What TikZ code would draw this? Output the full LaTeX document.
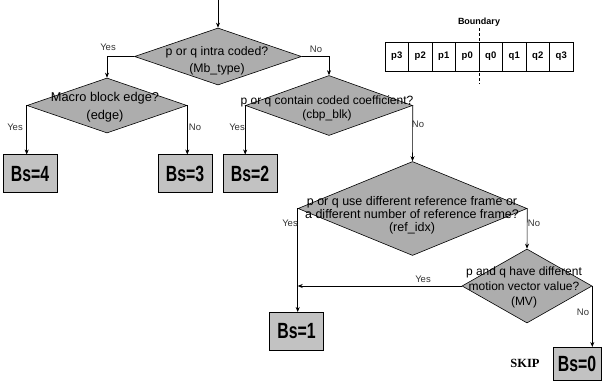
\documentclass[tikz,border=0pt]{standalone}
\usepackage{fontspec}
\usepackage{graphicx}
\setmainfont{Liberation Sans}
\newfontfamily\serifbold{Liberation Serif}
\usetikzlibrary{shapes.geometric,arrows.meta}
\tikzset{
  dia/.style={diamond, draw=black, line width=0.6pt, fill=black!32, inner sep=0pt},
  dtext/.style={align=center, inner sep=0pt, text=black},
  bsbox/.style={draw=black, line width=1pt, fill=black!24, inner sep=0pt,
    minimum width=54pt, minimum height=38pt, font=\fontsize{22}{22}\selectfont\bfseries},
  arr/.style={line width=0.6pt, -{Stealth[length=5pt,width=4pt]}},
  lbl/.style={font=\fontsize{9.5}{10}\selectfont, text=black!80, inner sep=0pt},
  cell/.style={draw=black, line width=0.7pt, minimum width=23.5pt, minimum height=29pt,
    inner sep=0pt, font=\fontsize{9.5}{10}\selectfont\bfseries},
}
\begin{document}
\begin{tikzpicture}[x=1pt,y=-1pt]
\useasboundingbox (0,0) rectangle (603,387);

% diamonds
\node[dia, minimum width=167pt, minimum height=57pt] (d1) at (218,56.5) {};
\node[dtext, font=\fontsize{12.3}{17}\selectfont] at (217,60.5) {p or q intra coded?\\(Mb\_type)};

\node[dia, minimum width=160pt, minimum height=55pt] (mac) at (107,105.5) {};
\node[dtext, font=\fontsize{12.8}{18}\selectfont] at (105,107) {Macro block edge?\\(edge)};

\node[dia, minimum width=167pt, minimum height=60pt] (d2) at (329,105.5) {};
\node[dtext, font=\fontsize{12}{13.5}\selectfont] at (327,108.5) {p or q contain coded coefficient?\\(cbp\_blk)};

\node[dia, minimum width=229pt, minimum height=94pt] (d3) at (412.5,208.5) {};
\node[dtext, font=\fontsize{12.5}{13}\selectfont] at (412,215) {p or q use different reference frame or\\a different number of reference frame?\\(ref\_idx)};

\node[dia, minimum width=130pt, minimum height=74pt] (d4) at (527,286) {};
\node[dtext, font=\fontsize{12}{15}\selectfont] at (524,287.5) {p and q have different\\motion vector value?\\(MV)};

% result boxes
\node[bsbox] (b4) at (30,174) {\scalebox{0.72}[1]{Bs=4}};
\node[bsbox] (b3) at (185,174) {\scalebox{0.72}[1]{Bs=3}};
\node[bsbox] (b2) at (250,174) {\scalebox{0.72}[1]{Bs=2}};
\node[bsbox] (b1) at (296.5,331.5) {\scalebox{0.72}[1]{Bs=1}};
\node[bsbox, minimum width=48pt, minimum height=33pt] (b0) at (577,364) {\scalebox{0.72}[1]{Bs=0}};
\node[font=\serifbold\bfseries\fontsize{12.5}{12.5}\selectfont, inner sep=0pt] (skip) at (525,363) {SKIP};

% connectors
\coordinate (start) at (218,0);
\draw[arr] (start) -- (d1.north);
\draw[arr] (d1.west) -| (mac.north);
\draw[arr] (d1.east) -| (d2.north);
\draw[arr] (mac.west) -- (mac.west |- b4.north);
\draw[arr] (mac.east) -- (mac.east |- b3.north);
\draw[arr] (d2.west) -- (d2.west |- b2.north);
\draw[arr] (d2.east) -- (d3.north);
\draw[arr] (d3.west) -- (d3.west |- b1.north);
\draw[arr] (d3.east) -- (d4.north);
\draw[arr] (d4.west) -- (d4.west -| d3.west);
\draw[arr] (d4.east) -- (d4.east |- b0.north);

% yes / no labels
\node[lbl] at (108,47) {Yes};
\node[lbl] at (316,49) {No};
\node[lbl] at (15,127) {Yes};
\node[lbl] at (195,127) {No};
\node[lbl] at (237,127) {Yes};
\node[lbl] at (418,124) {No};
\node[lbl] at (290,223) {Yes};
\node[lbl] at (534,223) {No};
\node[lbl] at (423,279) {Yes};
\node[lbl] at (583,312) {No};

% boundary diagram
\foreach \n [count=\i from 0] in {p3,p2,p1,p0,q0,q1,q2,q3} {
  \node[cell] (c\n) at ({385+11.75+23.5*\i},56.5) {\n};
}
\node[font=\fontsize{9}{9}\selectfont\bfseries, inner sep=0pt] (bd) at (479,22) {Boundary};
\coordinate (bt) at (479,28);
\coordinate (bb) at (479,84);
\draw[line width=0.6pt, densely dashed] (bt) -- (bb);
\end{tikzpicture}
\end{document}
